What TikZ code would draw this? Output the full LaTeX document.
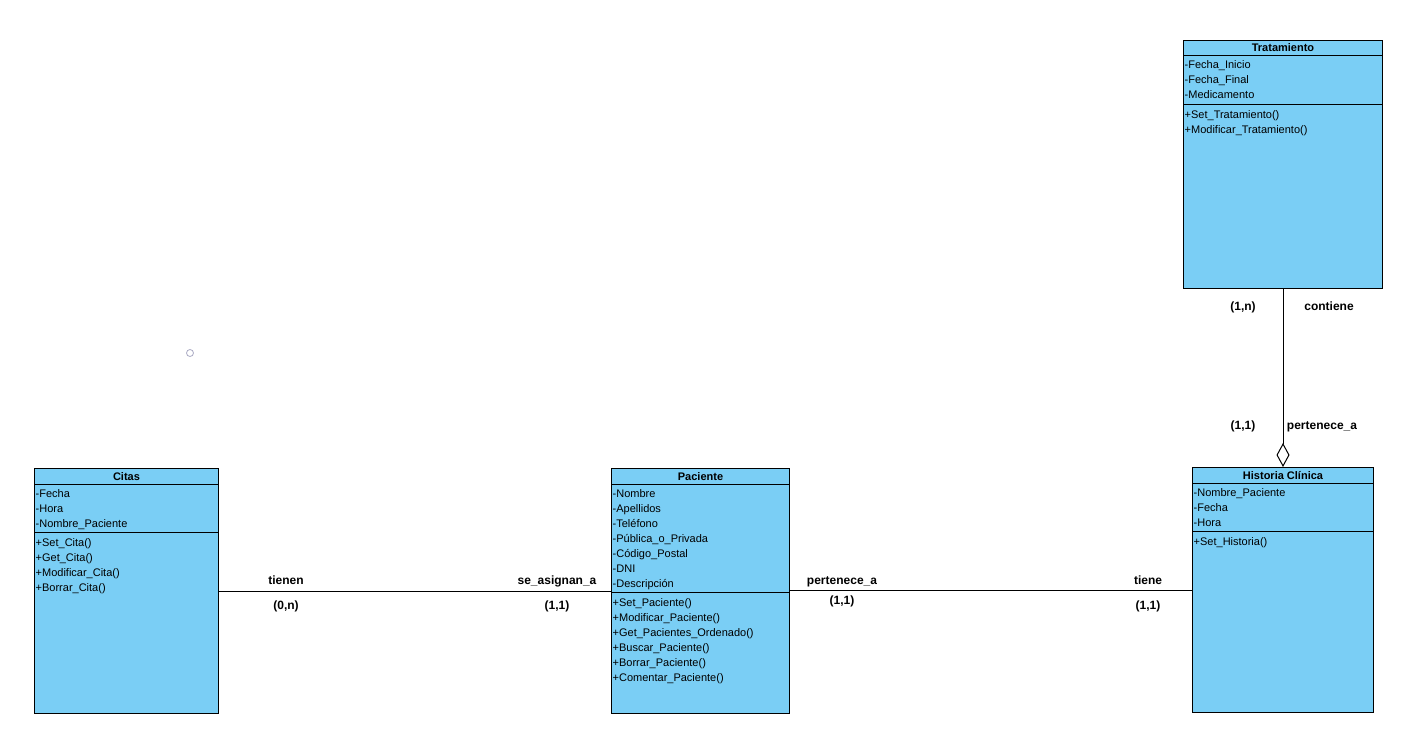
\documentclass[tikz,border=0pt]{standalone}
\usepackage{fontspec}
\setmainfont{Liberation Sans}
\usetikzlibrary{arrows.meta}
\definecolor{classfill}{RGB}{122,206,245}
\definecolor{markgray}{RGB}{170,170,195}

% rows of a class compartment: box, prefix, offset of first row, list
\newcommand\umlrows[4]{%
  \foreach \t [count=\i] in {#4} {%
    \node[member] (#2\i) at ([xshift=1.5pt,yshift={-(#3+4+15*(\i-1))*1pt}]#1.north west) {\t};}}
% horizontal separator at a given offset below the top of a box
\newcommand\umlsep[2]{%
  \draw[conn] ([yshift=-#2pt]#1.north west) -- ([yshift=-#2pt]#1.north east);}

\begin{document}
\begin{tikzpicture}[x=1pt,y=-1pt,
  classbox/.style={draw=black, fill=classfill, line width=1pt, rectangle,
    inner sep=0pt, anchor=north west},
  member/.style={anchor=base west, inner sep=0pt, font=\fontsize{11}{13}\selectfont},
  classtitle/.style={anchor=base, inner sep=0pt, font=\bfseries\fontsize{11}{13}\selectfont},
  lbl/.style={anchor=base, inner sep=0pt, font=\bfseries\fontsize{12}{14}\selectfont},
  conn/.style={draw=black, line width=1pt}]
\useasboundingbox (0,0) rectangle (1422,752);

% ---- Tratamiento
\node[classbox, minimum width=199pt, minimum height=248pt] (trat) at (1183,40) {};
\node[classtitle] (trat-t) at ([yshift=-12pt]trat.north) {Tratamiento};
\umlsep{trat}{16}
\umlrows{trat}{trat-a}{25}{-Fecha\_Inicio,-Fecha\_Final,-Medicamento}
\umlsep{trat}{64}
\umlrows{trat}{trat-m}{74}{+Set\_Tratamiento(),+Modificar\_Tratamiento()}

% ---- Citas
\node[classbox, minimum width=184pt, minimum height=245pt] (citas) at (34,468) {};
\node[classtitle] (citas-t) at ([yshift=-12pt]citas.north) {Citas};
\umlsep{citas}{16}
\umlrows{citas}{citas-a}{25}{-Fecha,-Hora,-Nombre\_Paciente}
\umlsep{citas}{64}
\umlrows{citas}{citas-m}{74}{+Set\_Cita(),+Get\_Cita(),+Modificar\_Cita(),+Borrar\_Cita()}

% ---- Paciente
\node[classbox, minimum width=178pt, minimum height=245pt] (pac) at (611,468) {};
\node[classtitle] (pac-t) at ([yshift=-12pt]pac.north) {Paciente};
\umlsep{pac}{16}
\umlrows{pac}{pac-a}{25}{-Nombre,-Apellidos,-Teléfono,-Pública\_o\_Privada,-Código\_Postal,-DNI,-Descripción}
\umlsep{pac}{124}
\umlrows{pac}{pac-m}{134}{+Set\_Paciente(),+Modificar\_Paciente(),+Get\_Pacientes\_Ordenado(),+Buscar\_Paciente(),+Borrar\_Paciente(),+Comentar\_Paciente()}

% ---- Historia Clínica
\node[classbox, minimum width=181pt, minimum height=245pt] (hist) at (1192,467) {};
\node[classtitle] (hist-t) at ([yshift=-12pt]hist.north) {Historia Clínica};
\umlsep{hist}{16}
\umlrows{hist}{hist-a}{25}{-Nombre\_Paciente,-Fecha,-Hora}
\umlsep{hist}{64}
\umlrows{hist}{hist-m}{74}{+Set\_Historia()}

% ---- associations
\draw[conn] (citas.east) -- (pac.west);
\draw[conn] (hist.west -| pac.east) -- (hist.west);
\draw[conn, -{Diamond[open, length=24pt, width=13pt, line width=1pt]}] (trat.south) -- (hist.north);

% ---- role names and multiplicities (base line positions)
\node[lbl] (l-tienen) at (286,584.5) {tienen};
\node[lbl] (l-0n) at (286,609.5) {(0,n)};
\node[lbl] (l-asig) at (557,584.5) {se\_asignan\_a};
\node[lbl] (l-11a) at (557,609.5) {(1,1)};
\node[lbl] (l-pert) at (842,584.5) {pertenece\_a};
\node[lbl] (l-11b) at (842,604.5) {(1,1)};
\node[lbl] (l-tiene) at (1148,584.5) {tiene};
\node[lbl] (l-11c) at (1148,609.5) {(1,1)};
\node[lbl] (l-1n) at (1243,310.5) {(1,n)};
\node[lbl] (l-cont) at (1329,310.5) {contiene};
\node[lbl] (l-11d) at (1243,429.5) {(1,1)};
\node[lbl] (l-pert2) at (1322,429.5) {pertenece\_a};

% ---- small marker
\draw[markgray, line width=0.8pt] (190,353) circle[radius=3.5pt];
\end{tikzpicture}
\end{document}
